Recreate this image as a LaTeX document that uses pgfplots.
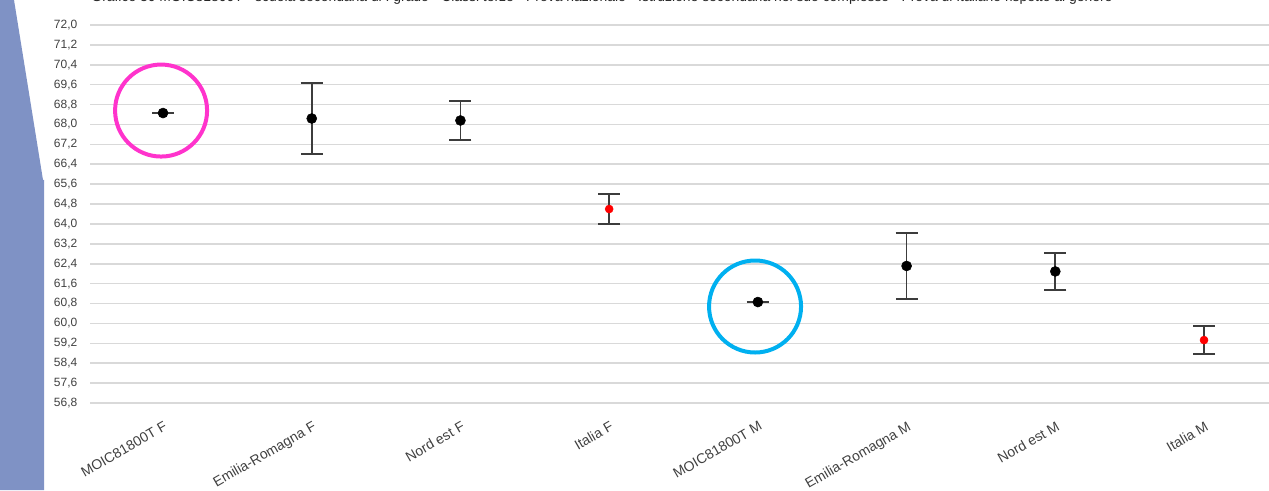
\documentclass[border=0pt]{standalone}
\usepackage{pgfplots}
\pgfplotsset{compat=1.18}
\usepackage{fontspec}
\setmainfont{Liberation Sans}
\definecolor{sidebar}{RGB}{127,146,197}
\definecolor{gridc}{RGB}{217,217,217}
\definecolor{lab}{RGB}{64,64,64}
\definecolor{ringpink}{RGB}{255,51,204}
\definecolor{ringcyan}{RGB}{0,176,240}
\definecolor{barc}{RGB}{60,60,60}

\pgfplotstableread{
x y e
0 68.46 0.0
1 68.24 1.43
2 68.16 0.78
4 60.86 0.0
5 62.31 1.33
6 62.09 0.75
}\blackpts
\pgfplotstableread{
x y e
3 64.60 0.60
7 59.33 0.57
}\redpts

\begin{document}
\begin{tikzpicture}
\begin{axis}[
  scale only axis,
  width=884.25pt, height=283.5pt,
  xmin=-0.491, xmax=7.437, ymin=56.8, ymax=72.0,
  axis line style={draw=none},
  major tick style={draw=none},
  ymajorgrids, grid style={gridc, line width=1.2pt},
  ytick={56.8,57.6,...,72.1},
  yticklabel style={font=\fontsize{9}{10}\selectfont, text=lab, xshift=-6pt,
    /pgf/number format/.cd, fixed, fixed zerofill, precision=1, use comma},
  /pgf/number format/assume math mode=true,
  xtick={0,...,7},
  xticklabels={MOIC81800T F, Emilia-Romagna F, Nord est F, Italia F, MOIC81800T M, Emilia-Romagna M, Nord est M, Italia M},
  xticklabel style={font=\fontsize{10.5}{12}\selectfont, text=lab, rotate=30, anchor=north east, yshift=-8pt, xshift=-3pt},
  clip=false,
]
\fill[sidebar] (rel axis cs:-0.07634,1.06614) -- (rel axis cs:-0.06446,1.06614) -- (rel axis cs:-0.03986,0.58995) -- (rel axis cs:-0.03902,0.58995) -- (rel axis cs:-0.03902,-0.23016) -- (rel axis cs:-0.07634,-0.23016) -- cycle;
\node[anchor=base, text=black!85, inner sep=0pt] at (rel axis cs:0.43427,1.06085) {\resizebox{765.75pt}{!}{Grafico 30 MOIC81800T - scuola secondaria di I grado - Classi terze - Prova nazionale - Istruzione secondaria nel suo complesso - Prova di Italiano rispetto al genere}};
\coordinate (bbsw) at (rel axis cs:-0.07634,-0.23016);
\coordinate (bbne) at (rel axis cs:1,1.06614);
\addplot[only marks, mark=*, mark size=3.75pt, black,
  error bars/.cd, y dir=both, y explicit,
  error bar style={barc, line width=1.3pt},
  error mark options={barc, line width=1.3pt, mark size=8.25pt, rotate=90}]
  table[x=x, y=y, y error=e] {\blackpts};
\addplot[only marks, mark=*, mark size=3pt, red,
  error bars/.cd, y dir=both, y explicit,
  error bar style={barc, line width=1.3pt},
  error mark options={barc, line width=1.3pt, mark size=8.25pt, rotate=90}]
  table[x=x, y=y, y error=e] {\redpts};
\addplot[only marks, mark=o, mark size=34.5pt, ringpink, line width=3pt] coordinates {(-0.013,68.56)};
\addplot[only marks, mark=o, mark size=34.5pt, ringcyan, line width=3pt] coordinates {(3.981,60.68)};
\end{axis}
\pgfresetboundingbox
\path[use as bounding box] (bbsw) rectangle (bbne);
\end{tikzpicture}
\end{document}
